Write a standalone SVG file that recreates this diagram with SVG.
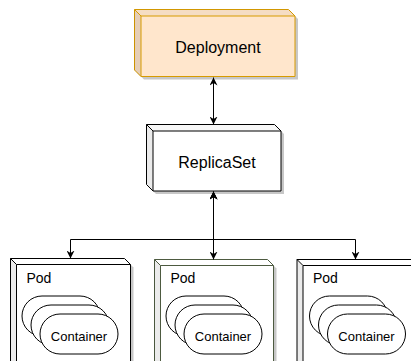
<svg xmlns="http://www.w3.org/2000/svg" width="411" height="361" viewBox="0 0 411 361">
<defs>
<style>
.lbl{font-family:"Liberation Sans",Arial,sans-serif;fill:#000;}
.big{font-size:16px;text-anchor:middle;}
.pod{font-size:14px;}
.ctr{font-size:13px;text-anchor:middle;}
.shadow{fill:#000;opacity:0.22;}
.edge{fill:none;stroke:#000;stroke-width:1;}
.cont{fill:#fff;stroke:#000;stroke-width:1;}
.dark{fill:#000;opacity:0.08;stroke:none;}
</style>
<marker id="ah" viewBox="0 0 10 10" refX="10" refY="5" markerWidth="8" markerHeight="8" markerUnits="userSpaceOnUse" orient="auto-start-reverse">
<path d="M0,0 L10,5 L0,10 L3,5 Z" fill="#000"/>
</marker>
</defs>

<g id="deployment">
<path class="shadow" d="M137.5 12.5 L291.5 12.5 L298 19 L298 79.5 L144 79.5 L137.5 73 Z"/>
<path d="M134.5 9.5 L288.5 9.5 L295 16 L295 76.5 L141 76.5 L134.5 70 Z" fill="#ffe6cc" stroke="#d79b00"/>
<path d="M134.5 9.5 L141 16 L141 76.5 L134.5 70 Z" fill="#000" opacity="0.1"/>
<path d="M134.5 9.5 L288.5 9.5 L295 16 L141 16 Z" fill="#000" opacity="0.04"/>
<path d="M134.5 9.5 L141 16 L295 16 M141 16 L141 76.5" fill="none" stroke="#d79b00"/>
<text class="lbl big" x="218" y="52.5">Deployment</text>
</g>

<g id="replicaset">
<path class="shadow" d="M149.5 127.5 L277.5 127.5 L284 134 L284 194 L156 194 L149.5 187.5 Z"/>
<path d="M146.5 124.5 L274.5 124.5 L281 131 L281 191 L153 191 L146.5 184.5 Z" fill="#fff" stroke="#000"/>
<path d="M146.5 124.5 L153 131 L153 191 L146.5 184.5 Z" fill="#000" opacity="0.08"/>
<path d="M146.5 124.5 L274.5 124.5 L281 131 L153 131 Z" fill="#000" opacity="0.03"/>
<path d="M146.5 124.5 L153 131 L281 131 M153 131 L153 191" fill="none" stroke="#000"/>
<text class="lbl big" x="217" y="167.5">ReplicaSet</text>
</g>

<g id="pod1">
<path class="shadow" d="M13.5 261.5 L127.5 261.5 L133.5 267.5 L133.5 400 L13.5 400 Z"/>
<path d="M10.5 258.5 L124.5 258.5 L130.5 264.5 L130.5 400 L10.5 400 Z" fill="#fff" stroke="#000"/>
<path d="M10.5 258.5 L16.5 264.5 L16.5 400 L10.5 400 Z" fill="#000" opacity="0.08"/>
<path d="M10.5 258.5 L16.5 264.5 L130.5 264.5 M16.5 264.5 L16.5 400" fill="none" stroke="#000"/>
<text class="lbl pod" x="26.5" y="283">Pod</text>
<rect class="cont" x="22" y="296" width="78" height="40" rx="20" ry="20"/>
<rect class="cont" x="31" y="305" width="78" height="40" rx="20" ry="20"/>
<rect class="cont" x="40" y="314" width="78" height="40" rx="20" ry="20"/>
<text class="lbl ctr" x="79" y="341">Container</text>
</g>

<g id="pod2">
<path class="shadow" d="M157.5 262.5 L270.5 262.5 L276.5 268.5 L276.5 400 L157.5 400 Z"/>
<path d="M154.5 259.5 L267.5 259.5 L273.5 265.5 L273.5 400 L154.5 400 Z" fill="#fff" stroke="#4d5a40"/>
<path d="M154.5 259.5 L160.5 265.5 L160.5 400 L154.5 400 Z" fill="#000" opacity="0.08"/>
<path d="M154.5 259.5 L160.5 265.5 L273.5 265.5 M160.5 265.5 L160.5 400" fill="none" stroke="#4d5a40"/>
<text class="lbl pod" x="170.5" y="283">Pod</text>
<rect class="cont" x="166" y="296" width="78" height="40" rx="20" ry="20"/>
<rect class="cont" x="175" y="305" width="78" height="40" rx="20" ry="20"/>
<rect class="cont" x="184" y="314" width="78" height="40" rx="20" ry="20"/>
<text class="lbl ctr" x="223" y="341">Container</text>
</g>

<g id="pod3">
<path class="shadow" d="M300 262.5 L414 262.5 L420 268.5 L420 400 L300 400 Z"/>
<path d="M297 259.5 L411 259.5 L417 265.5 L417 400 L297 400 Z" fill="#fff" stroke="#000"/>
<path d="M297 259.5 L303 265.5 L303 400 L297 400 Z" fill="#000" opacity="0.08"/>
<path d="M297 259.5 L303 265.5 L417 265.5 M303 265.5 L303 400" fill="none" stroke="#000"/>
<text class="lbl pod" x="313" y="283">Pod</text>
<rect class="cont" x="309.5" y="296" width="78" height="40" rx="20" ry="20"/>
<rect class="cont" x="318.5" y="305" width="78" height="40" rx="20" ry="20"/>
<rect class="cont" x="327.5" y="314" width="78" height="40" rx="20" ry="20"/>
<text class="lbl ctr" x="366.5" y="341">Container</text>
</g>

<g id="connectors">
<path class="edge" d="M213.5 77.5 L213.5 124.5" marker-start="url(#ah)" marker-end="url(#ah)"/>
<path class="edge" d="M213.5 191.5 L213.5 239.5 L70.5 239.5 L70.5 258.5" marker-start="url(#ah)" marker-end="url(#ah)"/>
<path class="edge" d="M213.5 191.5 L213.5 259.5" stroke-width="1.6" marker-start="url(#ah)" marker-end="url(#ah)"/>
<path class="edge" d="M213.5 191.5 L213.5 239.5 L355.5 239.5 L355.5 259.5" marker-start="url(#ah)" marker-end="url(#ah)"/>
</g>
</svg>
